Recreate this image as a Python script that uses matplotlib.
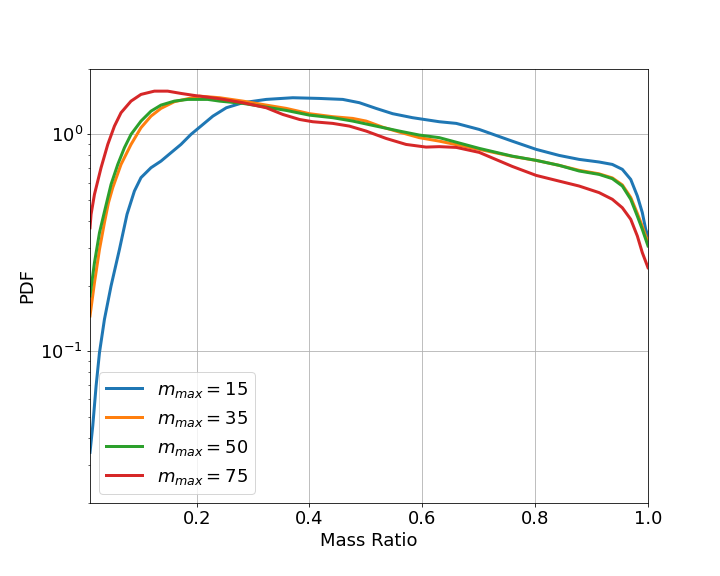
import matplotlib
matplotlib.use("Agg")
import matplotlib.pyplot as plt

labels = [r'$m_{max} = 15$', r'$m_{max} = 35$', r'$m_{max} = 50$', r'$m_{max} = 75$']

x15 = [0.011, 0.0159, 0.0218, 0.0278, 0.0366, 0.0483, 0.0632, 0.0766, 0.0897, 0.1014, 0.1191,
       0.1368, 0.1545, 0.1722, 0.1899, 0.2076, 0.2288, 0.2526, 0.2819, 0.3234, 0.3704, 0.4177,
       0.4589, 0.4885, 0.5180, 0.5474, 0.5828, 0.6301, 0.6602, 0.7009, 0.7593, 0.8018, 0.8425,
       0.8779, 0.9133, 0.9368, 0.9545, 0.9694, 0.9811, 0.9899, 0.9959, 1.0]
y15 = [0.0342, 0.0453, 0.0692, 0.0986, 0.1404, 0.200, 0.295, 0.428, 0.548, 0.632, 0.702,
       0.753, 0.823, 0.899, 1.0, 1.092, 1.214, 1.327, 1.400, 1.450, 1.476, 1.465,
       1.450, 1.400, 1.318, 1.246, 1.194, 1.144, 1.124, 1.054, 0.931, 0.853, 0.800,
       0.767, 0.746, 0.727, 0.690, 0.620, 0.520, 0.436, 0.365, 0.34]

x35 = [0.011, 0.0189, 0.0278, 0.0366, 0.0437, 0.0513, 0.0660, 0.0837, 0.1014, 0.1191, 0.1368,
       0.1605, 0.1841, 0.2053, 0.2407, 0.2819, 0.3234, 0.3588, 0.4, 0.4412, 0.4766, 0.5004,
       0.5297, 0.5593, 0.5947, 0.6301, 0.7009, 0.7593, 0.8018, 0.8425, 0.8779, 0.9133, 0.9368,
       0.9545, 0.9694, 0.9811, 0.9899, 1.0]
y35 = [0.1455, 0.207, 0.295, 0.392, 0.484, 0.568, 0.727, 0.899, 1.074, 1.214, 1.318,
       1.415, 1.460, 1.501, 1.476, 1.424, 1.365, 1.318, 1.246, 1.207, 1.185, 1.152,
       1.080, 1.025, 0.966, 0.931, 0.853, 0.792, 0.759, 0.720, 0.683, 0.658, 0.630,
       0.585, 0.512, 0.432, 0.377, 0.317]

x50 = [0.011, 0.0189, 0.0278, 0.0366, 0.0483, 0.0602, 0.0720, 0.0837, 0.1014, 0.1191, 0.1368,
       0.1605, 0.1841, 0.2195, 0.2407, 0.2819, 0.3234, 0.3588, 0.4, 0.4412, 0.4766, 0.5180,
       0.5593, 0.5947, 0.6301, 0.7009, 0.7593, 0.8018, 0.8425, 0.8779, 0.9133, 0.9368, 0.9545,
       0.9694, 0.9811, 0.9899, 1.0]
y50 = [0.180, 0.256, 0.352, 0.440, 0.588, 0.727, 0.868, 1.0, 1.152, 1.280, 1.365,
       1.424, 1.450, 1.450, 1.424, 1.390, 1.336, 1.290, 1.227, 1.194, 1.152, 1.092,
       1.036, 0.993, 0.966, 0.862, 0.794, 0.759, 0.720, 0.678, 0.654, 0.625, 0.578,
       0.502, 0.420, 0.365, 0.306]

x75 = [0.011, 0.0129, 0.0189, 0.0306, 0.0425, 0.0543, 0.0660, 0.0837, 0.1014, 0.1251, 0.1487,
       0.1722, 0.1959, 0.2195, 0.2407, 0.2819, 0.3234, 0.3527, 0.3823, 0.4058, 0.4412, 0.4708,
       0.5004, 0.5358, 0.5712, 0.6066, 0.6301, 0.6602, 0.7009, 0.7593, 0.8018, 0.8425, 0.8779,
       0.9133, 0.9368, 0.9545, 0.9694, 0.9811, 0.9899, 1.0]
y75 = [0.371, 0.428, 0.529, 0.702, 0.899, 1.092, 1.259, 1.424, 1.529, 1.583, 1.583,
       1.545, 1.512, 1.485, 1.460, 1.400, 1.327, 1.236, 1.172, 1.144, 1.124, 1.092,
       1.036, 0.958, 0.899, 0.874, 0.878, 0.871, 0.826, 0.712, 0.647, 0.609, 0.578,
       0.539, 0.502, 0.459, 0.406, 0.340, 0.285, 0.243]

colors = ['#1f77b4', '#ff7f0e', '#2ca02c', '#d62728']

fig, ax = plt.subplots(figsize=(10, 8), dpi=72)
fig.subplots_adjust(left=0.125, right=0.9, top=0.88, bottom=0.127)
for xs, ys, lab, c in zip([x15, x35, x50, x75], [y15, y35, y50, y75], labels, colors):
    ax.plot(xs, ys, color=c, lw=3, label=lab)

ax.set_yscale('log')
ax.set_xlim(0.011, 1.0)
ax.set_ylim(0.02, 2.0)
ax.set_xticks([0.2, 0.4, 0.6, 0.8, 1.0])
ax.grid(True, which='major', color='#b0b0b0')
ax.tick_params(axis='both', which='major', labelsize=18)
ax.set_xlabel('Mass Ratio', fontsize=18)
ax.set_ylabel('PDF', fontsize=18)
ax.legend(loc='lower left', fontsize=18)
fig.savefig('out.png', dpi=72)
